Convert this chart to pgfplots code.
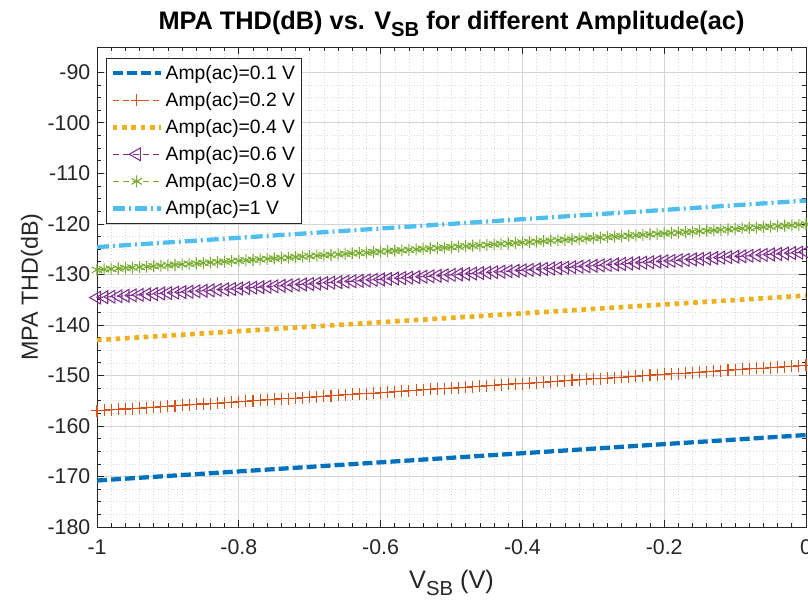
\documentclass[border=0pt]{standalone}
\usepackage{fontspec}
\setmainfont{Liberation Sans}
\usepackage{graphicx}
\usepackage{pgfplots}
\pgfplotsset{compat=1.18}
\usepackage{pgfplotstable}

\definecolor{cA}{rgb}{0,0.447,0.741}
\definecolor{cB}{rgb}{0.85,0.325,0.098}
\definecolor{cC}{rgb}{0.929,0.694,0.125}
\definecolor{cD}{rgb}{0.494,0.184,0.556}
\definecolor{cE}{rgb}{0.466,0.674,0.188}
\definecolor{cF}{rgb}{0.301,0.745,0.933}
\definecolor{axcol}{rgb}{0.15,0.15,0.15}

\newcommand{\subs}[1]{\raisebox{-0.55ex}{\scalebox{0.8}{#1}}}

\pgfplotstableread{
x red purple green
-1.00 -157.00 -134.60 -129.10
-0.99 -156.91 -134.51 -129.01
-0.98 -156.82 -134.42 -128.92
-0.97 -156.73 -134.33 -128.83
-0.96 -156.64 -134.24 -128.74
-0.95 -156.55 -134.15 -128.65
-0.94 -156.46 -134.06 -128.56
-0.93 -156.37 -133.97 -128.47
-0.92 -156.28 -133.88 -128.38
-0.91 -156.19 -133.79 -128.29
-0.90 -156.10 -133.70 -128.20
-0.89 -156.01 -133.61 -128.11
-0.88 -155.92 -133.52 -128.02
-0.87 -155.83 -133.43 -127.93
-0.86 -155.74 -133.34 -127.84
-0.85 -155.65 -133.25 -127.75
-0.84 -155.56 -133.16 -127.66
-0.83 -155.47 -133.07 -127.57
-0.82 -155.38 -132.98 -127.48
-0.81 -155.29 -132.89 -127.39
-0.80 -155.20 -132.80 -127.30
-0.79 -155.11 -132.71 -127.21
-0.78 -155.02 -132.62 -127.12
-0.77 -154.93 -132.53 -127.03
-0.76 -154.84 -132.44 -126.94
-0.75 -154.75 -132.35 -126.85
-0.74 -154.66 -132.26 -126.76
-0.73 -154.57 -132.17 -126.67
-0.72 -154.48 -132.08 -126.58
-0.71 -154.39 -131.99 -126.49
-0.70 -154.30 -131.90 -126.40
-0.69 -154.21 -131.81 -126.31
-0.68 -154.12 -131.72 -126.22
-0.67 -154.03 -131.63 -126.13
-0.66 -153.94 -131.54 -126.04
-0.65 -153.85 -131.45 -125.95
-0.64 -153.76 -131.36 -125.86
-0.63 -153.67 -131.27 -125.77
-0.62 -153.58 -131.18 -125.68
-0.61 -153.49 -131.09 -125.59
-0.60 -153.40 -131.00 -125.50
-0.59 -153.31 -130.91 -125.41
-0.58 -153.22 -130.82 -125.32
-0.57 -153.13 -130.73 -125.23
-0.56 -153.04 -130.64 -125.14
-0.55 -152.95 -130.55 -125.05
-0.54 -152.86 -130.46 -124.96
-0.53 -152.77 -130.37 -124.87
-0.52 -152.68 -130.28 -124.78
-0.51 -152.59 -130.19 -124.69
-0.50 -152.50 -130.10 -124.60
-0.49 -152.41 -130.01 -124.51
-0.48 -152.32 -129.92 -124.42
-0.47 -152.23 -129.83 -124.33
-0.46 -152.14 -129.74 -124.24
-0.45 -152.05 -129.65 -124.15
-0.44 -151.96 -129.56 -124.06
-0.43 -151.87 -129.47 -123.97
-0.42 -151.78 -129.38 -123.88
-0.41 -151.69 -129.29 -123.79
-0.40 -151.60 -129.20 -123.70
-0.39 -151.51 -129.11 -123.61
-0.38 -151.42 -129.02 -123.52
-0.37 -151.33 -128.93 -123.43
-0.36 -151.24 -128.84 -123.34
-0.35 -151.15 -128.75 -123.25
-0.34 -151.06 -128.66 -123.16
-0.33 -150.97 -128.57 -123.07
-0.32 -150.88 -128.48 -122.98
-0.31 -150.79 -128.39 -122.89
-0.30 -150.70 -128.30 -122.80
-0.29 -150.61 -128.21 -122.71
-0.28 -150.52 -128.12 -122.62
-0.27 -150.43 -128.03 -122.53
-0.26 -150.34 -127.94 -122.44
-0.25 -150.25 -127.85 -122.35
-0.24 -150.16 -127.76 -122.26
-0.23 -150.07 -127.67 -122.17
-0.22 -149.98 -127.58 -122.08
-0.21 -149.89 -127.49 -121.99
-0.20 -149.80 -127.40 -121.90
-0.19 -149.71 -127.31 -121.81
-0.18 -149.62 -127.22 -121.72
-0.17 -149.53 -127.13 -121.63
-0.16 -149.44 -127.04 -121.54
-0.15 -149.35 -126.95 -121.45
-0.14 -149.26 -126.86 -121.36
-0.13 -149.17 -126.77 -121.27
-0.12 -149.08 -126.68 -121.18
-0.11 -148.99 -126.59 -121.09
-0.10 -148.90 -126.50 -121.00
-0.09 -148.81 -126.41 -120.91
-0.08 -148.72 -126.32 -120.82
-0.07 -148.63 -126.23 -120.73
-0.06 -148.54 -126.14 -120.64
-0.05 -148.45 -126.05 -120.55
-0.04 -148.36 -125.96 -120.46
-0.03 -148.27 -125.87 -120.37
-0.02 -148.18 -125.78 -120.28
-0.01 -148.09 -125.69 -120.19
0.00 -148.00 -125.60 -120.10
}\markdata

\pgfplotstableread{
x blue yellow lightblue
-1.0 -170.80 -143.00 -124.60
-0.9 -169.90 -142.12 -123.68
-0.8 -169.00 -141.24 -122.76
-0.7 -168.10 -140.36 -121.84
-0.6 -167.20 -139.48 -120.92
-0.5 -166.30 -138.60 -120.00
-0.4 -165.40 -137.72 -119.08
-0.3 -164.50 -136.84 -118.16
-0.2 -163.60 -135.96 -117.24
-0.1 -162.70 -135.08 -116.32
0.0 -161.80 -134.20 -115.40
}\linedata

\begin{document}
\begin{tikzpicture}
\begin{axis}[
  scale only axis,
  width=531.75pt, height=360pt,
  xmin=-1, xmax=0, ymin=-180, ymax=-85,
  xtick={-1,-0.8,-0.6,-0.4,-0.2,0},
  xticklabels={-1,-0.8,-0.6,-0.4,-0.2,0},
  ytick={-180,-170,-160,-150,-140,-130,-120,-110,-100,-90},
  minor x tick num=9, minor y tick num=3,
  grid=both,
  major grid style={draw=black!17, line width=0.5pt},
  minor grid style={draw=black!16, line width=0.4pt, dotted},
  axis line style={draw=axcol, line width=0.6pt},
  every tick/.style={draw=axcol, line width=0.5pt},
  major tick length=5pt, minor tick length=2.8pt,
  tick align=inside,
  /pgf/number format/assume math mode=true,
  tick label style={font=\fontsize{16}{18}\selectfont, text=axcol},
  xticklabel style={yshift=-6pt},
  yticklabel style={xshift=-1.5pt},
  title={\bfseries MPA THD(dB) vs. V\subs{SB} for different Amplitude(ac)},
  title style={font=\fontsize{19}{21}\selectfont, at={(axis description cs:0.5,1.04)}, anchor=base, yshift=-7pt},
  xlabel={V\subs{SB} (V)},
  ylabel={MPA THD(dB)},
  label style={font=\fontsize{19}{21}\selectfont, text=axcol},
  xlabel style={at={(axis description cs:0.5,-0.128)}, anchor=base},
  ylabel style={font=\fontsize{17.5}{20}\selectfont, at={(axis description cs:-0.092,0.5)}, anchor=center},
  legend style={at={(axis description cs:0.0127,0.977)}, anchor=north west,
    draw=axcol, line width=0.5pt, fill=white,
    font=\fontsize{14.5}{16}\selectfont, row sep=4.3pt,
    inner xsep=3pt, inner ysep=3pt},
  legend cell align=left,
  legend image code/.code={\draw[mark repeat=2,mark phase=2] plot coordinates {(0pt,0pt) (18pt,0pt) (36pt,0pt)};},
]
\addplot[cA, line width=3.2pt, dash pattern=on 7.5pt off 3pt] table[x=x,y=blue] {\linedata};
\addlegendentry{Amp(ac)=0.1 V}
\addplot[cB, line width=0.8pt, dash pattern=on 4.5pt off 3pt, mark=+, mark size=4.5pt, mark options={solid}] table[x=x,y=red] {\markdata};
\addlegendentry{Amp(ac)=0.2 V}
\addplot[cC, line width=3.5pt, dash pattern=on 3.5pt off 3.5pt] table[x=x,y=yellow] {\linedata};
\addlegendentry{Amp(ac)=0.4 V}
\addplot[cD, line width=0.8pt, dash pattern=on 4.5pt off 3pt, mark=triangle, mark size=5.5pt, mark options={solid, rotate=90, fill=none}] table[x=x,y=purple] {\markdata};
\addlegendentry{Amp(ac)=0.6 V}
\addplot[cE, line width=0.8pt, dash pattern=on 4.5pt off 3pt, mark=asterisk, mark size=4.5pt, mark options={solid}] table[x=x,y=green] {\markdata};
\addlegendentry{Amp(ac)=0.8 V}
\addplot[cF, line width=3.2pt, dash pattern=on 9pt off 3pt on 1.5pt off 3pt] table[x=x,y=lightblue] {\linedata};
\addlegendentry{Amp(ac)=1 V}
\end{axis}
\pgfresetboundingbox
\path (-72.75pt,-62.25pt) rectangle (533.25pt,395.25pt);
\end{tikzpicture}
\end{document}
